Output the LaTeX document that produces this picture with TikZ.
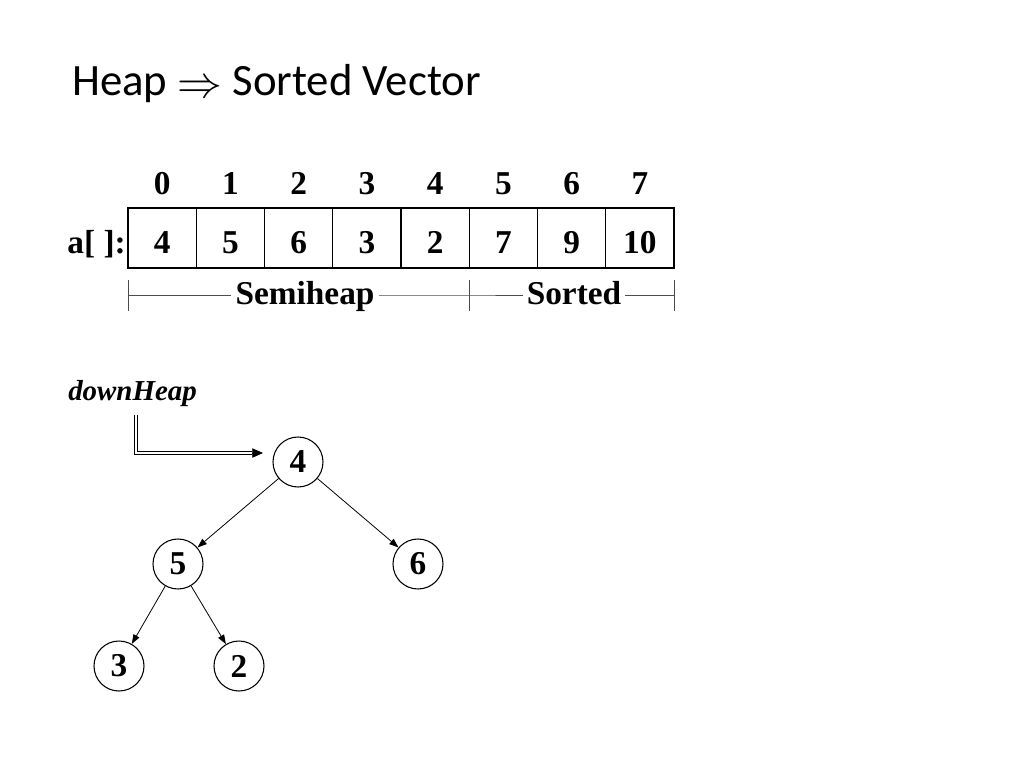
\documentclass[tikz,border=0pt]{standalone}
\usepackage{fontspec}
\setmainfont{Liberation Serif}
\newfontfamily\titlefont{Carlito}
\usetikzlibrary{arrows.meta}
\begin{document}
\begin{tikzpicture}[x=0.75pt,y=-0.75pt,
  txt/.style={font=\fontsize{25pt}{27pt}\selectfont\bfseries,inner sep=0pt},
  cell/.style={draw,line width=0.8pt,minimum width=68.25*0.75pt,minimum height=60*0.75pt,inner sep=0pt},
  hnode/.style={draw,circle,line width=0.8pt,minimum size=50*0.75pt,inner sep=0pt,font=\fontsize{25pt}{27pt}\selectfont\bfseries},
  edge/.style={line width=0.6pt,-{Triangle[length=7pt,width=5pt]}},
  brk/.style={line width=0.6pt,draw=black!70}]
\useasboundingbox (0,0) rectangle (1024,768);
% title
\node[anchor=base west,inner sep=0pt,font=\titlefont\fontsize{33.6pt}{36pt}\selectfont] (title) at (72,95) {Heap \raisebox{-0.05em}{\scalebox{1.35}{$\Rightarrow$}} Sorted Vector};
% array
\foreach \v [count=\i from 0] in {4,5,6,3,2,7,9,10} {
  \node[cell] (c\i) at ({128+68.25*\i+34.125},238) {};
  \node[txt,anchor=base] (v\i) at ({128+68.25*\i+34.125},253) {\v};
  \node[txt,anchor=base] (i\i) at ({128+68.25*\i+34.125},194) {\i};
}
\node[txt,anchor=base east] (lbl) at (126,253) {a[ ]:};
% bracket
\coordinate (b0t) at (128,280); \coordinate (b0b) at (128,311);
\coordinate (b1t) at (469,280); \coordinate (b1b) at (469,311);
\coordinate (b2t) at (674,280); \coordinate (b2b) at (674,311);
\draw[brk] (b0t) -- (b0b); \draw[brk] (b1t) -- (b1b); \draw[brk] (b2t) -- (b2b);
\node[txt,anchor=base,inner xsep=3pt] (semi) at (305,304) {Semiheap};
\node[txt,anchor=base,inner xsep=3pt] (sorted) at (574,304) {Sorted};
\coordinate (m0) at (128,295); \coordinate (m1) at (469,295); \coordinate (m2) at (674,295);
\draw[brk] (m0) -- (semi.west |- m0);
\draw[brk] (semi.east |- m0) -- (m1) -- (sorted.west |- m1);
\draw[brk] (sorted.east |- m2) -- (m2);
% downHeap
\node[anchor=base west,inner sep=0pt,font=\fontsize{21.7pt}{23pt}\selectfont\bfseries\itshape] (dh) at (68,400) {downHeap};
% tree
\node[hnode] (n4) at (298,462) {4};
\node[hnode] (n5) at (178,564) {5};
\node[hnode] (n6) at (418,564) {6};
\node[hnode] (n3) at (119,666) {3};
\node[hnode] (n2) at (239,666) {2};
\coordinate (dstart) at (136,415);
\coordinate (dcorner) at (136,453);
\coordinate (dmid) at (252,453);
\coordinate (dend) at (263,453);
\draw[double,double distance=1.6pt,line width=0.6pt] (dstart) -- (dcorner) -- (dmid);
\draw[-{Triangle[length=8pt,width=7pt]},line width=0.6pt] (dmid) -- (dend);
\draw[edge] (n4) -- (n5);
\draw[edge] (n4) -- (n6);
\draw[edge] (n5) -- (n3);
\draw[edge] (n5) -- (n2);
\end{tikzpicture}
\end{document}
